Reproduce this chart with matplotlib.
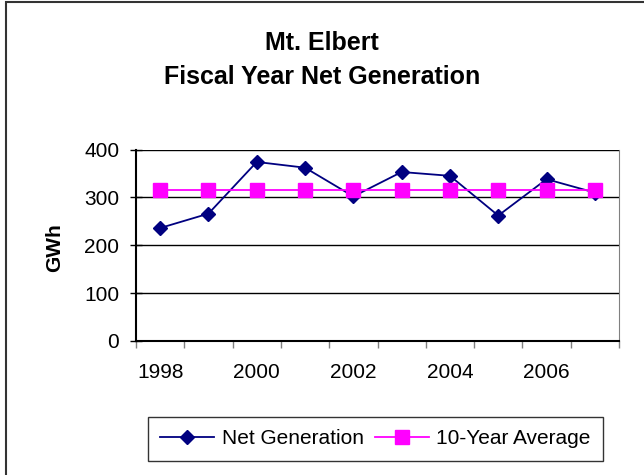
import matplotlib.pyplot as plt
from matplotlib.patches import Rectangle

plt.rcParams['font.family'] = ['Liberation Sans', 'DejaVu Sans']

years = [1998, 1999, 2000, 2001, 2002, 2003, 2004, 2005, 2006, 2007]
net_generation = [236, 266, 374, 362, 302, 353, 345, 262, 338, 310]
ten_year_average = [316] * 10
label_years = ["1998", "2000", "2002", "2004", "2006"]

fig = plt.figure(figsize=(6.44, 4.75), dpi=100)
ax = fig.add_axes([136 / 644, 1 - 341 / 475, (619 - 136) / 644, (341 - 149.5) / 475])

pos = list(range(len(years)))
ax.plot(pos, net_generation, color="#000080", marker="D", markersize=7.5,
        linewidth=1.3, label="Net Generation", zorder=3)
ax.plot(pos, ten_year_average, color="#FF00FF", marker="s", markersize=9.5,
        linewidth=1.3, label="10-Year Average", zorder=4)

ax.set_xlim(-0.5, len(years) - 0.5)
ax.set_ylim(0, 400)
ax.set_yticks([0, 100, 200, 300, 400])
for v in [100, 200, 300, 400]:
    ax.axhline(v, color="black", linewidth=1, zorder=1)

ax.set_xticks([p for p in pos if p % 2 == 0])
ax.set_xticklabels(label_years)
ax.set_xticks([p - 0.5 for p in pos] + [len(years) - 0.5], minor=True)
ax.tick_params(axis="x", which="major", length=0, pad=16, labelsize=15)
ax.tick_params(axis="x", which="minor", length=5, color="#808080", width=1)
ax.tick_params(axis="y", length=8, direction="inout", labelsize=15, width=1, pad=8)

ax.spines["left"].set_linewidth(1.5)
ax.spines["bottom"].set_linewidth(1.5)
ax.spines["right"].set_color("#808080")
ax.spines["top"].set_visible(False)

ax.set_ylabel("GWh", fontsize=15, fontweight="bold")
ax.yaxis.set_label_coords(-0.148, 0.49)

fig.text(0.5, 1 - 43 / 475, "Mt. Elbert", ha="center", va="center",
         fontsize=18, fontweight="bold")
fig.text(0.5, 1 - 77 / 475, "Fiscal Year Net Generation", ha="center",
         va="center", fontsize=18, fontweight="bold")

leg = fig.legend(loc="center", bbox_to_anchor=(375.5 / 644, 1 - 439 / 475),
                 ncol=2, fontsize=15, frameon=True, fancybox=False,
                 edgecolor="black", handlelength=2.6, columnspacing=0.55,
                 handletextpad=0.35, borderpad=0.6, borderaxespad=0)
leg.get_frame().set_linewidth(1)

fig.patches.append(Rectangle((5.5 / 644, -0.05), 1.1, 1 - 2 / 475 + 0.05,
                             transform=fig.transFigure, fill=False,
                             edgecolor="#333333", linewidth=1.5))

fig.savefig("out.png", dpi=100)
